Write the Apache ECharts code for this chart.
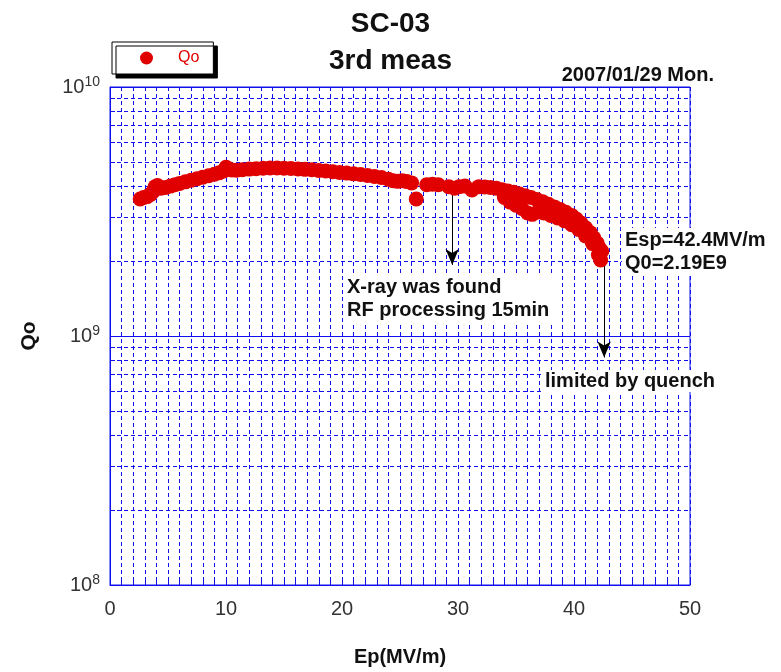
<!DOCTYPE html>
<html>
<head>
<meta charset="utf-8">
<script src="https://cdn.jsdelivr.net/npm/echarts@6/dist/echarts.min.js"></script>
<style>html,body{margin:0;padding:0;background:#fff}#c{width:781px;height:672px}</style>
</head>
<body>
<div id="c"></div>
<script>
// Ep (MV/m)
var epValues = [2.6,2.9,3.2,3.5,3.7,3.9,4.1,4.4,4.8,5.2,5.6,6.0,6.5,7.0,7.5,8.0,8.5,9.0,9.4,9.8,10.0,10.2,10.5,10.9,11.4,12.0,12.6,13.2,13.8,14.4,15.0,15.6,16.2,16.8,17.4,18.0,18.6,19.2,19.8,20.4,21.0,21.6,22.2,22.8,23.4,24.0,24.4,24.8,25.2,25.6,26.0,26.4,27.3,27.8,28.3,29.2,29.7,30.1,30.6,31.2,31.8,32.3,32.8,33.3,33.8,34.3,34.8,35.3,35.8,36.3,36.8,37.3,37.8,38.3,38.8,39.3,39.8,40.2,40.6,41.0,41.4,41.7,42.0,42.2,42.4,34.0,34.5,35.0,35.5,36.0,36.4,36.9,37.4,38.0,38.6,39.2,39.8,40.4,41.0,41.6,42.1,42.3];
// Qo
var qoValues = [3.55e9,3.6e9,3.63e9,3.7e9,3.8e9,3.98e9,4.02e9,3.92e9,3.95e9,4.0e9,4.05e9,4.1e9,4.16e9,4.22e9,4.28e9,4.34e9,4.4e9,4.46e9,4.52e9,4.6e9,4.76e9,4.7e9,4.64e9,4.63e9,4.65e9,4.68e9,4.7e9,4.72e9,4.73e9,4.73e9,4.72e9,4.71e9,4.69e9,4.67e9,4.65e9,4.62e9,4.6e9,4.57e9,4.54e9,4.51e9,4.48e9,4.45e9,4.41e9,4.37e9,4.33e9,4.26e9,4.2e9,4.18e9,4.2e9,4.17e9,4.12e9,3.55e9,4.05e9,4.07e9,4.05e9,3.98e9,3.92e9,3.98e9,4.0e9,3.86e9,3.98e9,3.97e9,3.95e9,3.92e9,3.87e9,3.82e9,3.78e9,3.72e9,3.66e9,3.6e9,3.53e9,3.46e9,3.38e9,3.3e9,3.22e9,3.14e9,3.05e9,2.95e9,2.84e9,2.72e9,2.6e9,2.48e9,2.36e9,2.25e9,2.19e9,3.6e9,3.45e9,3.35e9,3.25e9,3.12e9,3.08e9,3.15e9,3.12e9,3.05e9,2.98e9,2.9e9,2.8e9,2.68e9,2.52e9,2.35e9,2.12e9,2.02e9];
var xTickLabels = [0,10,20,30,40,50];
var yTickLabels = [1e8,1e9,1e10];

var points = epValues.map(function(e,i){return [e, qoValues[i]];});
var blue = '#1010ee';
var gridLine = {color:blue,type:[4,3],width:1};
var chart = echarts.init(document.getElementById('c'));
chart.setOption({
  animation:false,
  backgroundColor:'#fff',
  title:[
    {text:'SC-03',left:'center',top:5,textStyle:{fontFamily:'Liberation Sans',fontWeight:'bold',fontSize:28,color:'#111'}},
    {text:'3rd meas',left:'center',top:42,textStyle:{fontFamily:'Liberation Sans',fontWeight:'bold',fontSize:28,color:'#111'}},
    {text:'2007/01/29 Mon.',right:62,top:60,textStyle:{fontFamily:'Liberation Sans',fontWeight:'bold',fontSize:20,color:'#111'}}
  ],
  legend:{
    left:112, top:42, orient:'horizontal',
    data:[{name:'Qo',icon:'circle'}],
    itemWidth:13,itemHeight:13,
    padding:[8,14,8,28],
    borderColor:'#000',borderWidth:1,backgroundColor:'#fff',
    shadowColor:'#000',shadowOffsetX:4,shadowOffsetY:4,shadowBlur:0,
    textStyle:{color:'#e00000',fontFamily:'Liberation Sans',fontSize:16,padding:[0,0,0,20]}
  },
  grid:{left:110,right:91,top:87,bottom:87,show:true,borderColor:blue,borderWidth:1,backgroundColor:'#fff'},
  xAxis:{
    type:'value',min:0,max:50,interval:10,
    name:'Ep(MV/m)',nameLocation:'middle',nameGap:62,
    nameTextStyle:{fontFamily:'Liberation Sans',fontWeight:'bold',fontSize:20,color:'#111'},
    axisLine:{lineStyle:{color:blue,width:1}},
    axisTick:{inside:true,length:6,lineStyle:{color:blue}},
    minorTick:{show:true,splitNumber:10,length:4,lineStyle:{color:blue}},
    splitLine:{show:true,lineStyle:gridLine},
    minorSplitLine:{show:true,lineStyle:gridLine},
    axisLabel:{margin:14,fontFamily:'Liberation Sans',fontSize:20,color:'#333',
      formatter:function(v){return xTickLabels.indexOf(v)>=0?String(v):'';}}
  },
  yAxis:{
    type:'log',logBase:10,min:1e8,max:1e10,
    name:'Qo',nameLocation:'middle',nameGap:70,nameRotate:90,
    nameTextStyle:{fontFamily:'Liberation Sans',fontWeight:'bold',fontSize:21,color:'#111'},
    axisLine:{lineStyle:{color:blue,width:1}},
    axisTick:{inside:true,length:6,lineStyle:{color:blue}},
    minorTick:{show:true,splitNumber:9,length:5,lineStyle:{color:blue}},
    splitLine:{show:true,lineStyle:{color:blue,type:'solid',width:1}},
    minorSplitLine:{show:true,lineStyle:gridLine},
    axisLabel:{margin:10,color:'#333',
      formatter:function(v){
        var e=Math.round(Math.log10(v));
        return yTickLabels.indexOf(Math.pow(10,e))>=0?'{b|10}{s|'+e+'}':'';
      },
      rich:{b:{fontFamily:'Liberation Sans',fontSize:20,color:'#333'},
            s:{fontFamily:'Liberation Sans',fontSize:14,color:'#333',verticalAlign:'top',padding:[0,0,10,0]}}
    }
  },
  graphic:[
    {type:'text',left:344,top:275,z:100,style:{text:'X-ray was found\nRF processing 15min',font:'bold 20px "Liberation Sans"',fill:'#111',lineHeight:23,backgroundColor:'#fff',padding:[1,3]}},
    {type:'text',left:622,top:228,z:100,style:{text:'Esp=42.4MV/m\nQ0=2.19E9',font:'bold 20px "Liberation Sans"',fill:'#111',lineHeight:23,backgroundColor:'#fff',padding:[1,3]}},
    {type:'text',left:542,top:370,z:100,style:{text:'limited by quench',font:'bold 20px "Liberation Sans"',fill:'#111',backgroundColor:'#fff',padding:[1,3]}}
  ],
  series:[
    {
      type:'scatter',name:'Qo',data:points,symbol:'circle',symbolSize:15,
      itemStyle:{color:'#e00000',opacity:1},z:5,
      markLine:{silent:true,symbol:['none','arrow'],symbolSize:[10,16],label:{show:false},
        lineStyle:{color:'#000',type:'solid',width:1},
        data:[
          [{coord:[29.5,3.95e9]},{coord:[29.5,1.93e9]}],
          [{coord:[42.6,2.15e9]},{coord:[42.6,8.2e8]}]
        ]}
    }
  ]
});
</script>
</body>
</html>
